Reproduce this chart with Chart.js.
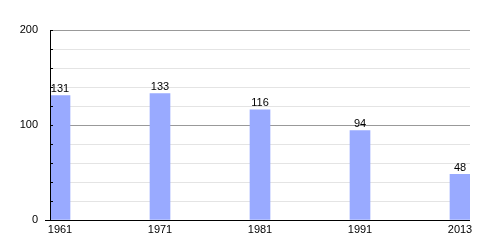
<!DOCTYPE html>
<html>
<head>
<meta charset="utf-8">
<script src="https://cdn.jsdelivr.net/npm/chart.js@4"></script>
<style>
  html, body { margin: 0; padding: 0; background: #fff; }
  #wrap { width: 500px; height: 250px; }
</style>
</head>
<body>
<div id="wrap"><canvas id="popChart"></canvas></div>
<script>
var years = ['1961', '1971', '1981', '1991', '2013'];
var population = [131, 133, 116, 94, 48];
var yLabels = [0, 100, 200];

var points = population.map(function (v, i) { return { x: i, y: v }; });

// value labels above bars + small inner tick marks on the y axis
var extras = {
  id: 'extras',
  afterDatasetsDraw: function (chart) {
    var ctx = chart.ctx;
    var meta = chart.getDatasetMeta(0);
    ctx.save();
    ctx.fillStyle = '#000';
    ctx.font = '11px "Liberation Sans", Arial, sans-serif';
    ctx.textAlign = 'center';
    ctx.textBaseline = 'bottom';
    meta.data.forEach(function (bar, i) {
      ctx.fillText(String(population[i]), bar.x, bar.y - 1);
    });
    var ys = chart.scales.y, xs = chart.scales.x;
    ctx.strokeStyle = '#000';
    ctx.lineWidth = 1;
    ctx.beginPath();
    for (var v = 0; v <= 200; v += 20) {
      var py = Math.round(ys.getPixelForValue(v)) + 0.5;
      ctx.moveTo(xs.left, py);
      ctx.lineTo(xs.left + 3, py);
    }
    // axes
    var left = Math.round(xs.left) + 0.5;
    var bottom = Math.round(ys.bottom) + 0.5;
    ctx.moveTo(left, ys.top);
    ctx.lineTo(left, bottom);
    ctx.moveTo(xs.left - 5, bottom);
    ctx.lineTo(xs.right, bottom);
    ctx.stroke();
    ctx.restore();
  }
};

new Chart(document.getElementById('popChart').getContext('2d'), {
  type: 'bar',
  data: {
    datasets: [{
      data: points,
      backgroundColor: '#99aaff',
      borderWidth: 0,
      barThickness: 20
    }]
  },
  options: {
    responsive: true,
    maintainAspectRatio: false,
    animation: false,
    layout: { padding: { top: 30, right: 30, left: 0, bottom: 0 } },
    plugins: { legend: { display: false }, tooltip: { enabled: false } },
    scales: {
      x: {
        type: 'linear',
        offset: false,
        min: -0.1,
        max: 4.1,
        afterFit: function (s) { s.height = 30; },
        afterBuildTicks: function (s) {
          s.ticks = years.map(function (y, i) { return { value: i }; });
        },
        grid: { display: false, drawTicks: false, offset: false },
        border: { display: false },
        ticks: {
          padding: 3,
          color: '#000',
          font: { family: '"Liberation Sans", Arial, sans-serif', size: 11 },
          callback: function (v) { return years[v]; }
        }
      },
      y: {
        min: 0,
        max: 200,
        afterFit: function (s) { s.width = 50; },
        grid: {
          drawTicks: false,
          color: function (c) {
            return yLabels.indexOf(c.tick.value) >= 0 ? '#999999' : '#e4e4e4';
          }
        },
        border: { display: false },
        ticks: {
          stepSize: 20,
          padding: 12,
          color: '#000',
          font: { family: '"Liberation Sans", Arial, sans-serif', size: 11 },
          callback: function (v) { return yLabels.indexOf(v) >= 0 ? String(v) : ''; }
        }
      }
    }
  },
  plugins: [extras]
});
</script>
</body>
</html>
